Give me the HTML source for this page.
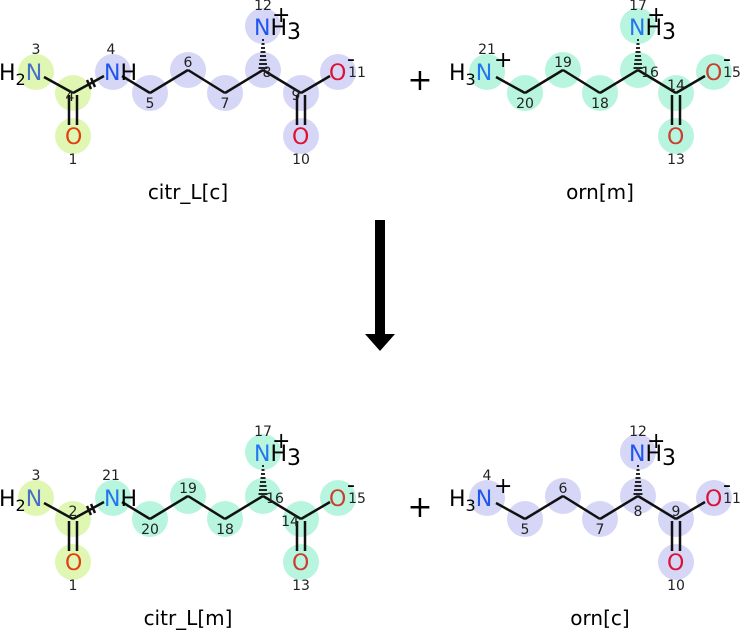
<!DOCTYPE html>
<html><head><meta charset="utf-8"><style>
html,body{margin:0;padding:0;background:#fff;width:742px;height:630px;overflow:hidden}
text{font-family:"DejaVu Sans","Liberation Sans",sans-serif}
.a{font-size:22px}
.n{font-size:14px;fill:#222}
.lb{font-size:20px;fill:#000}
</style></head><body>
<svg width="742" height="630" viewBox="0 0 742 630" xmlns="http://www.w3.org/2000/svg">
<defs>
<g id="citbonds" stroke="#111" stroke-width="2.5" fill="none">
<line x1="44" y1="77" x2="73" y2="93"/>
<line x1="69" y1="95" x2="69" y2="125"/><line x1="77" y1="95" x2="77" y2="125"/>
<line x1="73" y1="93" x2="104" y2="76"/>
<line x1="87" y1="80" x2="91" y2="89"/><line x1="91" y1="78" x2="95" y2="87"/>
<line x1="122" y1="76" x2="150" y2="93"/>
<line x1="150" y1="93" x2="188" y2="70"/><line x1="188" y1="70" x2="225" y2="93"/>
<line x1="225" y1="93" x2="263" y2="70"/><line x1="263" y1="70" x2="301" y2="93"/>
<line x1="297" y1="95" x2="297" y2="125"/><line x1="305" y1="95" x2="305" y2="125"/>
<line x1="301" y1="93" x2="330" y2="76"/>
</g>
<g id="hash" stroke="#111" stroke-width="1.8">
<line x1="262" y1="40" x2="264" y2="40"/><line x1="261.5" y1="44" x2="264.5" y2="44"/>
<line x1="261" y1="48" x2="265" y2="48"/><line x1="260.5" y1="52" x2="265.5" y2="52"/>
<line x1="260" y1="56" x2="266" y2="56"/><line x1="259.5" y1="60" x2="266.5" y2="60"/>
<line x1="259" y1="64" x2="267" y2="64"/><line x1="258.5" y1="68" x2="267.5" y2="68"/>
</g>
<g id="ornbonds" stroke="#111" stroke-width="2.5" fill="none">
<line x1="496" y1="77" x2="525" y2="93"/>
<line x1="525" y1="93" x2="563" y2="70"/><line x1="563" y1="70" x2="600" y2="93"/>
<line x1="600" y1="93" x2="638" y2="70"/><line x1="638" y1="70" x2="676" y2="93"/>
<line x1="672" y1="95" x2="672" y2="125"/><line x1="680" y1="95" x2="680" y2="125"/>
<line x1="676" y1="93" x2="705" y2="76"/>
</g>
</defs>

<!-- TOP citrulline -->
<g>
<g fill="#dff7b3"><circle cx="36" cy="72" r="18"/><circle cx="73" cy="93" r="18"/><circle cx="73" cy="136" r="18"/></g>
<g fill="#d6d6f7"><circle cx="113" cy="72" r="18"/><circle cx="150" cy="93" r="18"/><circle cx="188" cy="70" r="18"/><circle cx="225" cy="93" r="18"/><circle cx="263" cy="70" r="18"/><circle cx="263" cy="26" r="18"/><circle cx="301" cy="93" r="18"/><circle cx="301" cy="136" r="18"/><circle cx="338" cy="72" r="18"/></g>
<use href="#citbonds"/><use href="#hash"/>
<text class="a" x="-1" y="80" fill="#000">H<tspan font-size="16" dy="5">2</tspan><tspan dy="-5" fill="#4a6fc8">N</tspan></text>
<text class="a" x="104" y="80"><tspan fill="#2255ee">N</tspan>H</text>
<text class="a" x="65" y="144" fill="#e04010">O</text>
<text class="a" x="292" y="144" fill="#dd1133">O</text>
<text class="a" x="329" y="80" fill="#dd1133">O</text>
<text class="a" x="347" y="66" font-size="18">-</text>
<text class="a" x="254" y="35"><tspan fill="#2255ee">N</tspan>H<tspan dy="4">3</tspan></text>
<text class="a" x="272" y="22">+</text>
<g class="n" text-anchor="middle">
<text x="36" y="54">3</text><text x="70" y="101">4</text><text x="73" y="164">1</text><text x="111" y="54">4</text><text x="150" y="108">5</text><text x="188" y="67">6</text><text x="225" y="108">7</text><text x="267" y="77">8</text><text x="296" y="100">9</text><text x="301" y="164">10</text><text x="357" y="77">11</text><text x="263" y="10">12</text>
</g>
<text class="lb" x="188" y="199" text-anchor="middle">citr_L[c]</text>
</g>

<!-- TOP ornithine -->
<g>
<g fill="#b8f5df"><circle cx="487" cy="72" r="18"/><circle cx="525" cy="93" r="18"/><circle cx="563" cy="70" r="18"/><circle cx="600" cy="93" r="18"/><circle cx="638" cy="70" r="18"/><circle cx="638" cy="26" r="18"/><circle cx="676" cy="93" r="18"/><circle cx="676" cy="136" r="18"/><circle cx="714" cy="72" r="18"/></g>
<use href="#ornbonds"/><use href="#hash" transform="translate(375,0)"/>
<text class="a" x="449" y="80">H<tspan font-size="16" dy="5">3</tspan><tspan dy="-5" fill="#2277ee">N</tspan></text>
<text class="a" x="494" y="67">+</text>
<text class="a" x="667" y="144" fill="#c84030">O</text>
<text class="a" x="705" y="80" fill="#c84030">O</text>
<text class="a" x="723" y="66" font-size="18">-</text>
<text class="a" x="629" y="35"><tspan fill="#2277ee">N</tspan>H<tspan dy="4">3</tspan></text>
<text class="a" x="647" y="22">+</text>
<g class="n" text-anchor="middle">
<text x="487" y="54">21</text><text x="525" y="108">20</text><text x="563" y="67">19</text><text x="600" y="108">18</text><text x="650" y="77">16</text><text x="676" y="90">14</text><text x="676" y="164">13</text><text x="732" y="77">15</text><text x="638" y="10">17</text>
</g>
<text class="lb" x="600" y="199" text-anchor="middle">orn[m]</text>
</g>

<text x="420" y="90" font-size="30" text-anchor="middle" fill="#000">+</text>
<text x="420" y="517" font-size="30" text-anchor="middle" fill="#000">+</text>

<!-- arrow -->
<rect x="375" y="220" width="10" height="116" fill="#000"/>
<polygon points="365,334 395,334 380,351" fill="#000"/>

<!-- BOTTOM citrulline -->
<g transform="translate(0,426)">
<g fill="#dff7b3"><circle cx="36" cy="72" r="18"/><circle cx="73" cy="93" r="18"/><circle cx="73" cy="136" r="18"/></g>
<g fill="#b8f5df"><circle cx="113" cy="72" r="18"/><circle cx="150" cy="93" r="18"/><circle cx="188" cy="70" r="18"/><circle cx="225" cy="93" r="18"/><circle cx="263" cy="70" r="18"/><circle cx="263" cy="26" r="18"/><circle cx="301" cy="93" r="18"/><circle cx="301" cy="136" r="18"/><circle cx="338" cy="72" r="18"/></g>
<use href="#citbonds"/><use href="#hash"/>
<text class="a" x="-1" y="80" fill="#000">H<tspan font-size="16" dy="5">2</tspan><tspan dy="-5" fill="#4a6fc8">N</tspan></text>
<text class="a" x="104" y="80"><tspan fill="#2277ee">N</tspan>H</text>
<text class="a" x="65" y="144" fill="#e04010">O</text>
<text class="a" x="292" y="144" fill="#c84030">O</text>
<text class="a" x="329" y="80" fill="#c84030">O</text>
<text class="a" x="347" y="66" font-size="18">-</text>
<text class="a" x="254" y="35"><tspan fill="#2277ee">N</tspan>H<tspan dy="4">3</tspan></text>
<text class="a" x="272" y="22">+</text>
<g class="n" text-anchor="middle">
<text x="36" y="54">3</text><text x="73" y="90">2</text><text x="73" y="164">1</text><text x="111" y="54">21</text><text x="150" y="108">20</text><text x="188" y="67">19</text><text x="225" y="108">18</text><text x="275" y="77">16</text><text x="290" y="100">14</text><text x="301" y="164">13</text><text x="357" y="77">15</text><text x="263" y="10">17</text>
</g>
<text class="lb" x="188" y="199" text-anchor="middle">citr_L[m]</text>
</g>

<!-- BOTTOM ornithine -->
<g transform="translate(0,426)">
<g fill="#d6d6f7"><circle cx="487" cy="72" r="18"/><circle cx="525" cy="93" r="18"/><circle cx="563" cy="70" r="18"/><circle cx="600" cy="93" r="18"/><circle cx="638" cy="70" r="18"/><circle cx="638" cy="26" r="18"/><circle cx="676" cy="93" r="18"/><circle cx="676" cy="136" r="18"/><circle cx="714" cy="72" r="18"/></g>
<use href="#ornbonds"/><use href="#hash" transform="translate(375,0)"/>
<text class="a" x="449" y="80">H<tspan font-size="16" dy="5">3</tspan><tspan dy="-5" fill="#2255ee">N</tspan></text>
<text class="a" x="494" y="67">+</text>
<text class="a" x="667" y="144" fill="#dd1133">O</text>
<text class="a" x="705" y="80" fill="#dd1133">O</text>
<text class="a" x="723" y="66" font-size="18">-</text>
<text class="a" x="629" y="35"><tspan fill="#2255ee">N</tspan>H<tspan dy="4">3</tspan></text>
<text class="a" x="647" y="22">+</text>
<g class="n" text-anchor="middle">
<text x="487" y="54">4</text><text x="525" y="108">5</text><text x="563" y="67">6</text><text x="600" y="108">7</text><text x="638" y="90">8</text><text x="676" y="90">9</text><text x="676" y="164">10</text><text x="732" y="77">11</text><text x="638" y="10">12</text>
</g>
<text class="lb" x="600" y="199" text-anchor="middle">orn[c]</text>
</g>
</svg>
</body></html>
